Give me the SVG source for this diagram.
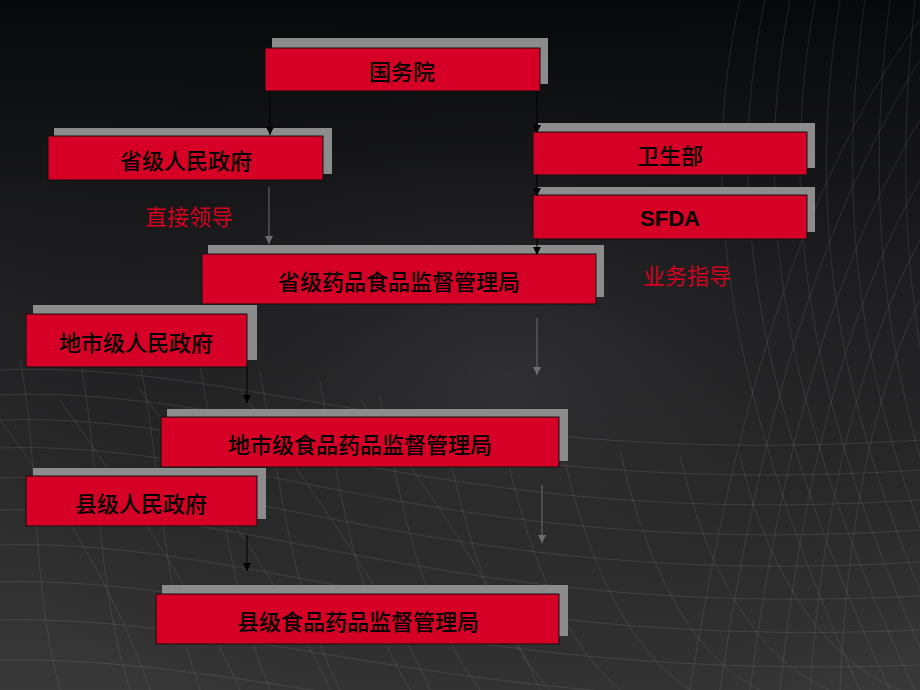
<svg xmlns="http://www.w3.org/2000/svg" width="920" height="690" viewBox="0 0 920 690">
<defs>
<linearGradient id="bg" x1="0" y1="0" x2="0" y2="1">
<stop offset="0" stop-color="#07080b"/>
<stop offset="0.45" stop-color="#222224"/>
<stop offset="1" stop-color="#383838"/>
</linearGradient>
<radialGradient id="glow" cx="0.55" cy="0.55" r="0.6">
<stop offset="0" stop-color="#3a3a3c" stop-opacity="0.5"/>
<stop offset="1" stop-color="#000" stop-opacity="0"/>
</radialGradient>
<marker id="ah" viewBox="0 0 10 10" refX="10" refY="5" markerWidth="8" markerHeight="8" markerUnits="userSpaceOnUse" orient="auto">
<path d="M0,0 L10,5 L0,10 z" fill="#000"/>
</marker>
<marker id="ahg" viewBox="0 0 10 10" refX="10" refY="5" markerWidth="8" markerHeight="8" markerUnits="userSpaceOnUse" orient="auto">
<path d="M0,0 L10,5 L0,10 z" fill="#6e6e6e"/>
</marker>
</defs>
<style>
.sh{fill:#8c8c8c;}
.bx{fill:#d60026;stroke:#111;stroke-width:1;}
.t{font-family:"Noto Sans CJK SC","Noto Sans CJK JP",sans-serif;font-size:22px;fill:#000;text-anchor:middle;dominant-baseline:central;font-weight:500;}
.s{font-family:"Liberation Sans",Arial,sans-serif;font-size:22px;font-weight:bold;fill:#000;text-anchor:middle;dominant-baseline:central;}
.r{font-family:"Noto Sans CJK SC","Noto Sans CJK JP",sans-serif;font-size:22px;fill:#d4001e;text-anchor:middle;dominant-baseline:central;}
.k{stroke:#000;stroke-width:1;fill:none;marker-end:url(#ah);}
.g{stroke:#6e6e6e;stroke-width:1;fill:none;marker-end:url(#ahg);}
.m{stroke:#9a9a9a;stroke-width:0.8;fill:none;opacity:0.22;}
</style>
<rect width="920" height="690" fill="url(#bg)"/>
<rect width="920" height="690" fill="url(#glow)"/>
<g id="mesh">
<path class="m" d="M740 0 C700 180 720 380 860 690"/>
<path class="m" d="M765 0 C725 190 750 390 890 690"/>
<path class="m" d="M790 0 C752 200 778 400 915 690"/>
<path class="m" d="M815 0 C778 210 806 410 940 690"/>
<path class="m" d="M840 0 C805 220 834 420 965 690"/>
<path class="m" d="M865 0 C832 230 862 430 990 690"/>
<path class="m" d="M890 0 C860 240 890 440 1010 690"/>
<path class="m" d="M915 0 C888 250 918 450 1030 690"/>
<path class="m" d="M920 60 C820 220 760 420 720 690"/>
<path class="m" d="M920 120 C830 270 780 460 750 690"/>
<path class="m" d="M920 180 C840 320 800 500 780 690"/>
<path class="m" d="M920 240 C850 370 820 540 810 690"/>
<path class="m" d="M920 300 C860 420 845 580 840 690"/>
<path class="m" d="M920 20 C810 170 740 380 690 690"/>
<path class="m" d="M0 370 C250 360 450 470 920 440"/>
<path class="m" d="M0 395 C250 385 450 500 920 470"/>
<path class="m" d="M0 420 C250 412 450 530 920 500"/>
<path class="m" d="M0 448 C250 440 450 560 920 530"/>
<path class="m" d="M0 478 C250 470 450 590 920 562"/>
<path class="m" d="M0 510 C250 502 450 620 920 596"/>
<path class="m" d="M0 545 C250 538 450 650 920 630"/>
<path class="m" d="M0 582 C250 576 450 682 920 665"/>
<path class="m" d="M0 620 C250 615 450 712 920 700"/>
<path class="m" d="M0 660 C250 656 450 745 920 735"/>
<path class="m" d="M20 360 C40 460 30 580 60 690"/>
<path class="m" d="M80 360 C100 460 95 580 130 690"/>
<path class="m" d="M140 362 C160 460 160 580 200 690"/>
<path class="m" d="M200 366 C220 470 225 580 270 690"/>
<path class="m" d="M260 372 C280 480 290 590 340 690"/>
<path class="m" d="M320 382 C340 490 355 600 410 690"/>
<path class="m" d="M380 395 C400 500 420 610 480 690"/>
<path class="m" d="M440 410 C460 510 485 620 550 690"/>
<path class="m" d="M500 425 C520 520 550 630 620 690"/>
<path class="m" d="M560 440 C580 530 615 640 690 690"/>
<path class="m" d="M620 450 C640 540 680 650 760 690"/>
<path class="m" d="M680 455 C700 545 745 655 830 690"/>
<path class="m" d="M740 455 C760 545 810 655 900 690"/>
<path class="m" d="M0 420 C60 500 120 600 150 690"/>
<path class="m" d="M60 400 C130 500 200 600 240 690"/>
<path class="m" d="M140 390 C220 500 290 600 330 690"/>
<path class="m" d="M240 390 C320 500 390 600 430 690"/>
<path class="m" d="M360 400 C440 500 500 600 540 690"/>
</g>
<g id="guowuyuan">
<rect class="sh" x="272" y="38" width="276" height="46"/>
<rect class="bx" x="265" y="48" width="275" height="43"/>
<text class="t" x="402" y="70">国务院</text>
</g>
<g id="weishengbu">
<rect class="sh" x="538" y="123" width="277" height="45"/>
<rect class="bx" x="533" y="132" width="274" height="43"/>
<text class="t" x="670" y="154">卫生部</text>
</g>
<g id="sfda">
<rect class="sh" x="538" y="187" width="277" height="45"/>
<rect class="bx" x="533" y="195" width="274" height="44"/>
<text class="s" x="670" y="218">SFDA</text>
</g>
<g id="shengzhengfu">
<rect class="sh" x="54" y="128" width="278" height="46"/>
<rect class="bx" x="48" y="136" width="275" height="44"/>
<text class="t" x="186" y="159">省级人民政府</text>
</g>
<text class="r" x="189" y="215">直接领导</text>
<g id="shengju">
<rect class="sh" x="208" y="245" width="396" height="52"/>
<rect class="bx" x="202" y="254" width="394" height="50"/>
<text class="t" x="399" y="280">省级药品食品监督管理局</text>
</g>
<text class="r" x="687" y="274">业务指导</text>
<g id="shizhengfu">
<rect class="sh" x="33" y="305" width="224" height="55"/>
<rect class="bx" x="26" y="314" width="221" height="53"/>
<text class="t" x="136" y="341">地市级人民政府</text>
</g>
<g id="shiju">
<rect class="sh" x="167" y="409" width="401" height="52"/>
<rect class="bx" x="161" y="417" width="398" height="50"/>
<text class="t" x="360" y="443">地市级食品药品监督管理局</text>
</g>
<g id="xianzhengfu">
<rect class="sh" x="33" y="468" width="233" height="51"/>
<rect class="bx" x="26" y="476" width="231" height="50"/>
<text class="t" x="141" y="502">县级人民政府</text>
</g>
<g id="xianju">
<rect class="sh" x="162" y="585" width="406" height="51"/>
<rect class="bx" x="156" y="594" width="403" height="50"/>
<text class="t" x="358" y="620">县级食品药品监督管理局</text>
</g>
<g id="connectors">
<line class="k" x1="270" y1="91" x2="270" y2="135"/>
<line class="k" x1="537" y1="91" x2="537" y2="133"/>
<line class="k" x1="537" y1="175" x2="537" y2="196"/>
<line class="k" x1="537" y1="239" x2="537" y2="255"/>
<line class="g" x1="269" y1="187" x2="269" y2="244"/>
<line class="g" x1="537" y1="318" x2="537" y2="375"/>
<line class="k" x1="247" y1="367" x2="247" y2="403"/>
<line class="g" x1="542" y1="485" x2="542" y2="543"/>
<line class="k" x1="247" y1="535" x2="247" y2="571"/>
</g>
</svg>
